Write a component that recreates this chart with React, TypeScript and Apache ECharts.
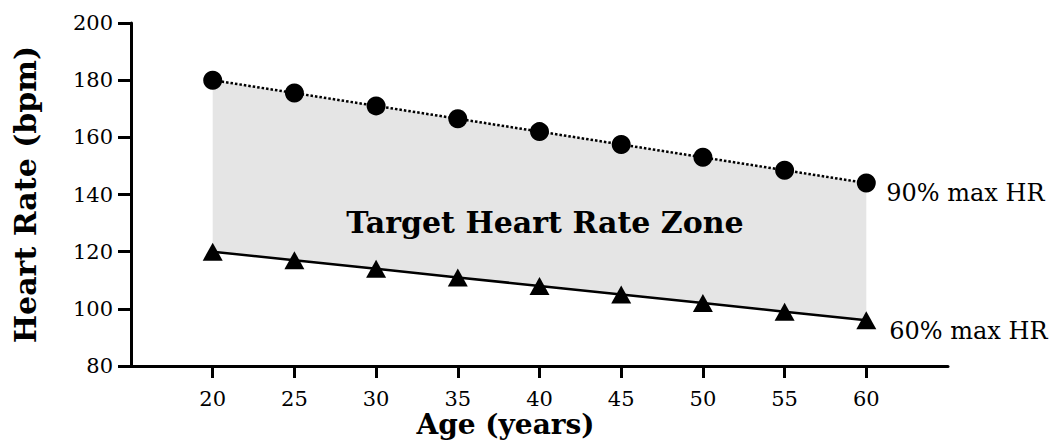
import React, { useEffect, useRef } from "react";
import * as echarts from "echarts";

const ages = [20, 25, 30, 35, 40, 45, 50, 55, 60];
const upperHR = [180, 175.5, 171, 166.5, 162, 157.5, 153, 148.5, 144];
const lowerHR = [120, 117, 114, 111, 108, 105, 102, 99, 96];
const xTickValues = [20, 25, 30, 35, 40, 45, 50, 55, 60];
const upperLabel = "90% max HR";
const lowerLabel = "60% max HR";
const zoneLabel = "Target Heart Rate Zone";
const xName = "Age (years)";
const yName = "Heart Rate (bpm)";

const FONT = "DejaVu Serif";

export default function App() {
  const ref = useRef<HTMLDivElement>(null);
  useEffect(() => {
    if (!ref.current) return;
    const chart = echarts.init(ref.current, undefined, { renderer: "svg" });
    const pair = (vals: number[]) => ages.map((a, i) => [a, vals[i]]);
    chart.setOption({
      animation: false,
      backgroundColor: "#ffffff",
      grid: { left: 131, right: 106, top: 23, bottom: 77, outerBoundsMode: "none", containLabel: false },
      xAxis: {
        type: "value",
        min: 15,
        max: 65,
        interval: 5,
        name: xName,
        nameLocation: "middle",
        nameGap: 48,
        nameMoveOverlap: false,
        nameTextStyle: {
          fontFamily: FONT,
          fontWeight: "bold",
          fontSize: 28,
          lineHeight: 20,
          color: "#000",
          padding: [0, 68, 0, 0],
        },
        axisLine: { show: true, onZero: false, lineStyle: { color: "#000", width: 3 } },
        axisTick: { show: true, length: 12, customValues: xTickValues, lineStyle: { color: "#000", width: 3 } },
        axisLabel: {
          customValues: xTickValues,
          margin: 24,
          lineHeight: 18,
          fontFamily: FONT,
          fontSize: 21,
          color: "#000",
        },
        splitLine: { show: false },
      },
      yAxis: {
        type: "value",
        min: 80,
        max: 200,
        interval: 20,
        name: yName,
        nameLocation: "middle",
        nameRotate: 90,
        nameGap: 91,
        nameMoveOverlap: false,
        nameTextStyle: {
          fontFamily: FONT,
          fontWeight: "bold",
          fontSize: 30,
          color: "#000",
        },
        axisLine: { show: true, onZero: false, lineStyle: { color: "#000", width: 3 } },
        axisTick: { show: true, length: 13, lineStyle: { color: "#000", width: 3 } },
        axisLabel: { margin: 18, fontFamily: FONT, fontSize: 21, color: "#000" },
        splitLine: { show: false },
      },
      series: [
        {
          type: "custom",
          data: ages.map((a, i) => [a, lowerHR[i], upperHR[i]]),
          encode: { x: 0, y: [1, 2] },
          silent: true,
          z: 1,
          renderItem: (params: any, api: any) => {
            if (params.dataIndex !== 0) return null;
            const top = ages.map((a, i) => api.coord([a, upperHR[i]]));
            const bottom = ages.map((a, i) => api.coord([a, lowerHR[i]])).reverse();
            return {
              type: "polygon",
              shape: { points: top.concat(bottom) },
              style: { fill: "#e5e5e5" },
            };
          },
        },
        {
          type: "line",
          data: pair(upperHR),
          symbol: "circle",
          symbolSize: 19,
          itemStyle: { color: "#000" },
          lineStyle: { color: "#000", width: 2.5, type: [2.5, 2] },
          endLabel: {
            show: true,
            formatter: upperLabel,
            offset: [12, 10],
            fontFamily: FONT,
            fontSize: 24,
            color: "#000",
          },
          z: 3,
        },
        {
          type: "line",
          data: pair(lowerHR),
          symbol: "triangle",
          symbolSize: [20, 18],
          itemStyle: { color: "#000" },
          lineStyle: { color: "#000", width: 2.5 },
          endLabel: {
            show: true,
            formatter: lowerLabel,
            offset: [15, 11],
            fontFamily: FONT,
            fontSize: 24,
            color: "#000",
          },
          z: 3,
        },
      ],
      graphic: [
        {
          type: "text",
          x: 545,
          y: 222,
          z: 10,
          style: {
            text: zoneLabel,
            fontFamily: FONT,
            fontWeight: "bold",
            fontSize: 30,
            fill: "#000",
            textAlign: "center",
            textVerticalAlign: "middle",
          },
        },
      ],
    });
    return () => chart.dispose();
  }, []);
  return (
    <div
      ref={ref}
      style={{ position: "fixed", left: 0, top: 0, width: 1054, height: 443 }}
    />
  );
}
